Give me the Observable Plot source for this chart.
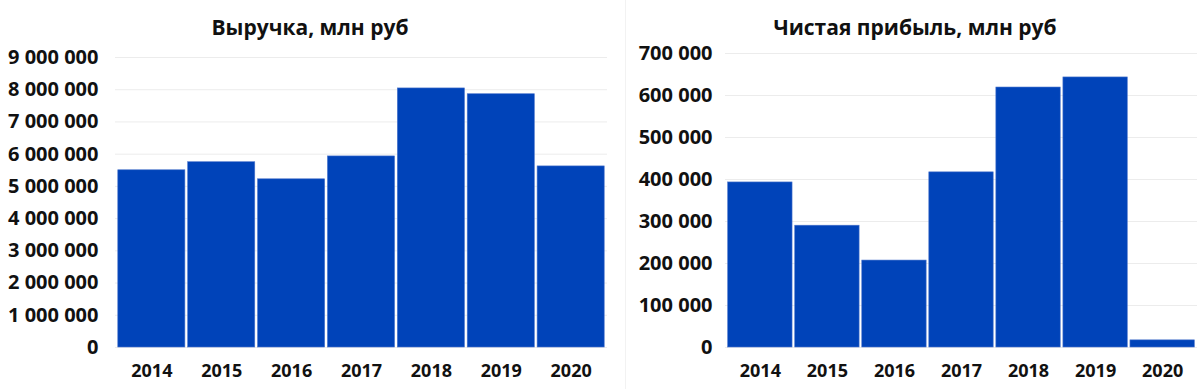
<!DOCTYPE html>
<html>
<head>
<meta charset="utf-8">
<script src="https://cdn.jsdelivr.net/npm/d3@7"></script>
<script src="https://cdn.jsdelivr.net/npm/@observablehq/plot@0.6"></script>
<style>
  html, body { margin: 0; padding: 0; background: #fff; }
  #wrap { position: relative; width: 1200px; height: 389px; overflow: hidden; font-family: "Open Sans", sans-serif; }
  .panel { position: absolute; top: 0; }
  .title { height: 35px; line-height: 54px; text-align: center; font-weight: 700; font-size: 21px; color: #111; }
  .divider { position: absolute; left: 625px; top: 0; width: 1px; height: 389px; background: #f2f2f2; }
</style>
</head>
<body>
<div id="wrap">
  <div class="divider"></div>
  <div class="panel" id="left" style="left:0;width:615px;"><div class="title" style="padding-left:5px;">Выручка, млн руб</div></div>
  <div class="panel" id="right" style="left:615px;width:585px;"><div class="title" style="padding-left:15px;">Чистая прибыль, млн руб</div></div>
</div>
<script>
const years = ["2014", "2015", "2016", "2017", "2018", "2019", "2020"];
const revenue = [5500000, 5750000, 5220000, 5930000, 8040000, 7860000, 5620000];
const profit = [393000, 290000, 207000, 417000, 619000, 643000, 17000];
const revenueTicks = [0, 1000000, 2000000, 3000000, 4000000, 5000000, 6000000, 7000000, 8000000, 9000000];
const profitTicks = [0, 100000, 200000, 300000, 400000, 500000, 600000, 700000];

const locale = d3.formatLocale({decimal: ",", thousands: " ", grouping: [3], currency: ["", ""]});
const fmt = locale.format(",");

function chart(values, ticks, opts) {
  const data = years.map((y, i) => ({year: y, value: values[i]}));
  return Plot.plot({
    width: opts.width,
    height: 354,
    marginLeft: opts.marginLeft,
    marginRight: opts.marginRight,
    marginTop: opts.marginTop,
    marginBottom: 42,
    style: {fontFamily: "Open Sans, sans-serif", fontSize: "18px", fontWeight: 600, color: "#111", background: "transparent", overflow: "visible"},
    x: {domain: years, padding: 0.04, round: false, label: null},
    y: {domain: [0, ticks[ticks.length - 1]], label: null},
    marks: [
      Plot.gridY(ticks, {stroke: "#ececec", strokeOpacity: 1}),
      Plot.barY(data, {x: "year", y: "value", fill: "#0043b9", stroke: "#4a74cc", strokeWidth: 0.6}),
      Plot.axisY(ticks, {tickSize: 0, tickPadding: opts.tickPadding, tickFormat: fmt, fontSize: 20, fontWeight: 700}),
      Plot.axisX({tickSize: 0, tickPadding: 17, fontSize: 18, fontWeight: 700})
    ]
  });
}

document.getElementById("left").appendChild(chart(revenue, revenueTicks, {width: 615, marginLeft: 115, marginRight: 8, marginTop: 22, tickPadding: 17}));
document.getElementById("right").appendChild(chart(profit, profitTicks, {width: 585, marginLeft: 110, marginRight: 3, marginTop: 18, tickPadding: 13}));
</script>
</body>
</html>
